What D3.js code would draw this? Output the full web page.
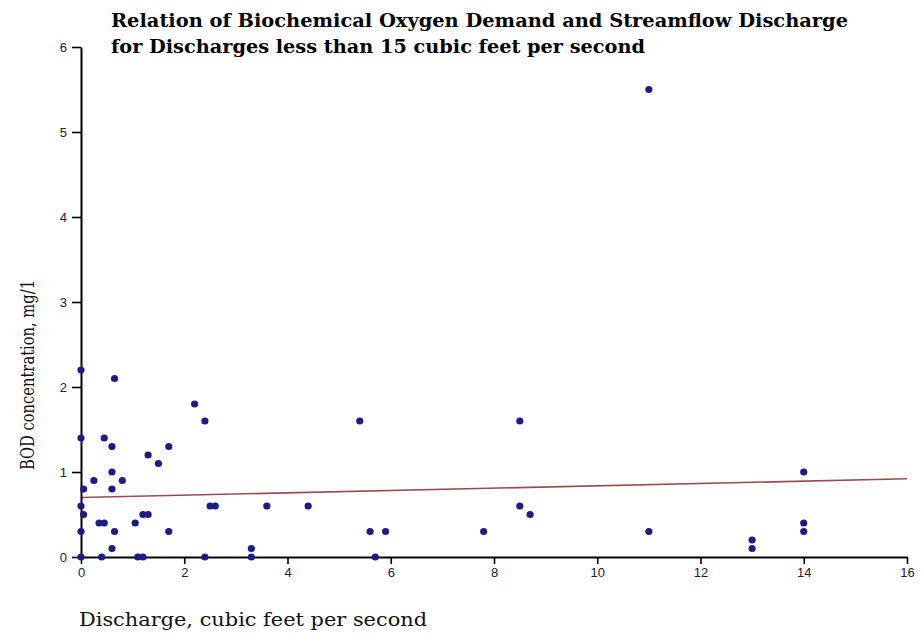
<!DOCTYPE html>
<html>
<head>
<meta charset="utf-8">
<script src="https://cdn.jsdelivr.net/npm/d3@7"></script>
<style>
  html, body { margin: 0; padding: 0; background: #fff; }
  svg { display: block; }
</style>
</head>
<body>
<div id="chart"></div>
<script>
// values
var discharge = [0, 0.65, 2.2, 0, 0.45, 0.6, 1.3, 1.5, 1.7, 0.6, 0.25, 0.8, 0.05, 0.6,
  0, 0.05, 0, 0.35, 0.45, 0.65, 0.6, 1.05, 1.2, 1.3, 1.7, 0, 0.4, 1.1, 1.2,
  2.4, 2.5, 2.6, 2.4, 5.4, 3.6, 4.4, 5.6, 5.9, 3.3, 3.3, 5.7,
  8.5, 8.5, 8.7, 7.8, 11, 11, 14, 14, 14, 13, 13];
var bod = [2.2, 2.1, 1.8, 1.4, 1.4, 1.3, 1.2, 1.1, 1.3, 1.0, 0.9, 0.9, 0.8, 0.8,
  0.6, 0.5, 0.3, 0.4, 0.4, 0.3, 0.1, 0.4, 0.5, 0.5, 0.3, 0, 0, 0, 0,
  1.6, 0.6, 0.6, 0, 1.6, 0.6, 0.6, 0.3, 0.3, 0.1, 0, 0,
  1.6, 0.6, 0.5, 0.3, 0.3, 5.5, 1.0, 0.4, 0.3, 0.2, 0.1];

// fitted line end points
var trendX = [0, 16];
var trendY = [0.70, 0.92];

var xTicks = [0, 2, 4, 6, 8, 10, 12, 14, 16];
var yTicks = [0, 1, 2, 3, 4, 5, 6];

var titleLines = ['Relation of Biochemical Oxygen Demand and Streamflow Discharge',
  'for Discharges less than 15 cubic feet per second'];
var xLabel = 'Discharge, cubic feet per second';
var yLabel = 'BOD concentration, mg/1';

var width = 921, height = 637;

var svg = d3.select('#chart').append('svg')
  .attr('width', width)
  .attr('height', height);

var x = d3.scaleLinear().domain([0, 16]).range([81, 907]);
var y = d3.scaleLinear().domain([0, 6]).range([557, 47]);

// title
svg.selectAll('.title')
  .data(titleLines)
  .enter().append('text')
  .attr('class', 'title')
  .attr('x', 111)
  .attr('y', function(d, i) { return 27 + i * 26; })
  .attr('textLength', function(d, i) { return i == 0 ? 737 : 534; })
  .attr('lengthAdjust', 'spacingAndGlyphs')
  .style('font-family', '"DejaVu Serif", serif')
  .style('font-weight', 'bold')
  .style('font-size', '18.5px')
  .style('fill', '#000')
  .text(function(d) { return d; });

// trend line
var line = d3.line()
  .x(function(d) { return x(d[0]); })
  .y(function(d) { return y(d[1]); });

svg.append('path')
  .datum(d3.zip(trendX, trendY))
  .attr('d', line)
  .style('fill', 'none')
  .style('stroke', '#9a4c4c')
  .style('stroke-width', 1.6);

// axes
var xAxis = svg.append('g')
  .attr('transform', 'translate(0,' + y(0) + ')')
  .call(d3.axisBottom(x).tickValues(xTicks).tickFormat(d3.format('d'))
    .tickSize(7).tickSizeOuter(0).tickPadding(4));

var yAxis = svg.append('g')
  .attr('transform', 'translate(' + x(0) + ',0)')
  .call(d3.axisLeft(y).tickValues(yTicks).tickFormat(d3.format('d'))
    .tickSize(9).tickSizeOuter(0).tickPadding(5));

[xAxis, yAxis].forEach(function(g) {
  g.select('.domain').style('stroke', '#000').style('stroke-width', 2);
  g.selectAll('.tick line').style('stroke', '#000').style('stroke-width', 1.6);
  g.selectAll('.tick text')
    .style('font-family', '"Liberation Sans", Arial, sans-serif')
    .style('font-size', '13px')
    .style('fill', '#222');
});

// points
svg.selectAll('.pt')
  .data(d3.zip(discharge, bod))
  .enter().append('circle')
  .attr('class', 'pt')
  .attr('cx', function(d) { return x(d[0]); })
  .attr('cy', function(d) { return y(d[1]); })
  .attr('r', 3.6)
  .style('fill', '#1c1c84');

// axis labels
svg.append('text')
  .attr('x', 79)
  .attr('y', 626)
  .attr('textLength', 348)
  .attr('lengthAdjust', 'spacingAndGlyphs')
  .style('font-family', '"DejaVu Serif", serif')
  .style('font-size', '18px')
  .style('fill', '#111')
  .text(xLabel);

svg.append('text')
  .attr('transform', 'translate(34,470) rotate(-90)')
  .attr('x', 0)
  .attr('y', 0)
  .attr('textLength', 190)
  .attr('lengthAdjust', 'spacingAndGlyphs')
  .style('font-family', '"DejaVu Serif", serif')
  .style('font-size', '18px')
  .style('fill', '#111')
  .text(yLabel);
</script>
</body>
</html>
